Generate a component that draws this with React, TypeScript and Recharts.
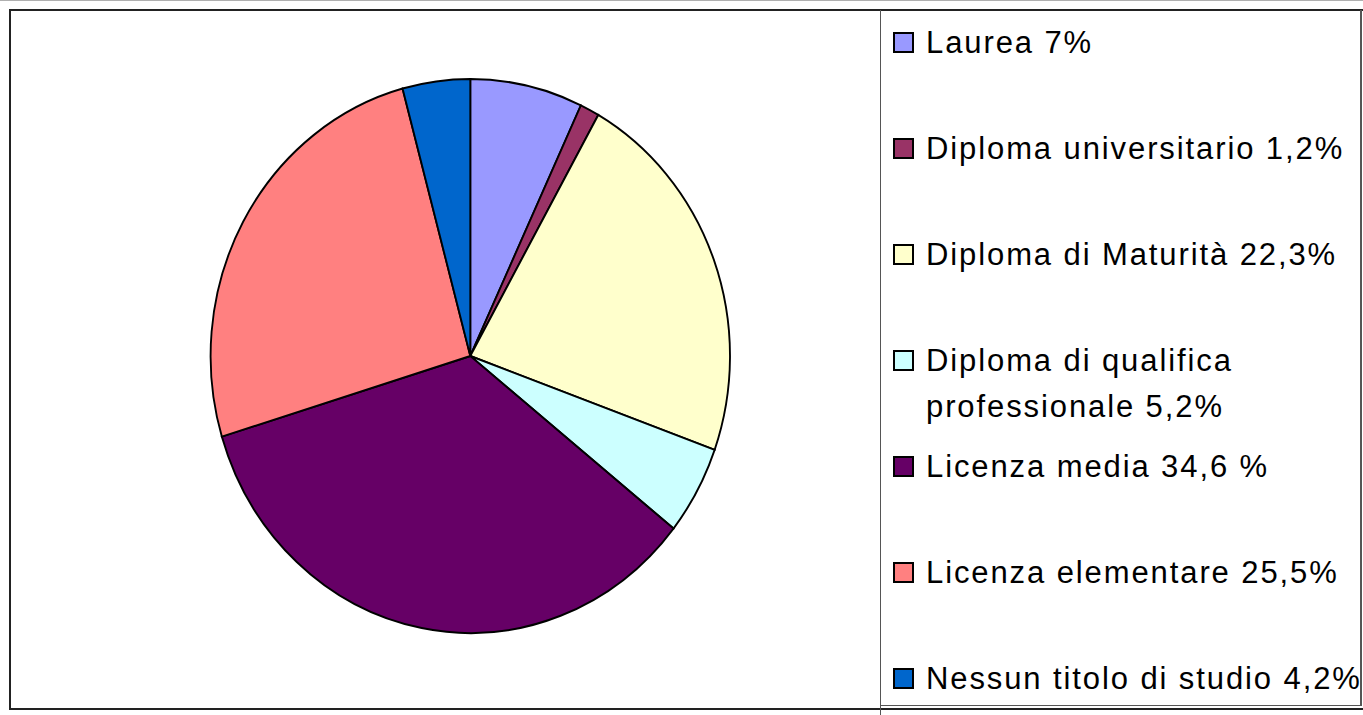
import { PieChart, Pie, Cell } from 'recharts'

// titoli di studio
const categories = [
  'Laurea',
  'Diploma universitario',
  'Diploma di Maturità',
  'Diploma di qualifica professionale',
  'Licenza media',
  'Licenza elementare',
  'Nessun titolo di studio',
]
const values = [7, 1.2, 22.3, 5.2, 34.6, 25.5, 4.2]
const legendLabels = [
  ['Laurea 7%'],
  ['Diploma universitario 1,2%'],
  ['Diploma di Maturità 22,3%'],
  ['Diploma di qualifica', 'professionale 5,2%'],
  ['Licenza media 34,6 %'],
  ['Licenza elementare 25,5%'],
  ['Nessun titolo di studio 4,2%'],
]
const colors = ['#9999ff', '#993366', '#ffffcc', '#ccffff', '#660066', '#ff8080', '#0066cc']

const data = categories.map((name, i) => ({ name, value: values[i] }))

// la torta originale è leggermente schiacciata in orizzontale
const RX = 259.7
const RY = 277
const CX = 460.3
const CY = 346

export default function App() {
  return (
    <div
      style={{
        position: 'absolute',
        left: 0,
        top: 0,
        width: 1363,
        height: 715,
        background: '#fff',
        fontFamily: '"Liberation Sans", Arial, sans-serif',
        overflow: 'hidden',
      }}
    >
      {/* riga grigia in alto */}
      <div style={{ position: 'absolute', left: 0, top: 0, width: 1363, height: 1, background: '#b0b0b0' }} />

      {/* cornice esterna */}
      <div
        style={{
          position: 'absolute',
          left: 9,
          top: 9,
          width: 1352,
          height: 697,
          borderLeft: '2px solid #222',
          borderTop: '2px solid #222',
          borderBottom: '2px solid #222',
        }}
      />

      {/* torta */}
      <div
        style={{
          position: 'absolute',
          left: 10,
          top: 10,
          width: 870,
          height: 696,
          transform: `scaleX(${RX / RY})`,
          transformOrigin: `${CX}px 50%`,
        }}
      >
        <PieChart width={870} height={696} margin={{ top: 0, right: 0, bottom: 0, left: 0 }}>
          <Pie
            data={data}
            dataKey="value"
            nameKey="name"
            cx={CX}
            cy={CY}
            outerRadius={RY}
            startAngle={90}
            endAngle={-270}
            stroke="#000"
            strokeWidth={2}
            isAnimationActive={false}
          >
            {data.map((d, i) => (
              <Cell key={d.name} fill={colors[i]} />
            ))}
          </Pie>
        </PieChart>
      </div>

      {/* legenda */}
      <div
        style={{
          position: 'absolute',
          left: 880,
          top: 10,
          width: 480,
          height: 695,
          borderRight: '2px solid #555',
          borderBottom: '1px solid #555',
        }}
      />
      <div style={{ position: 'absolute', left: 880, top: 10, width: 1, height: 705, background: '#555' }} />
      <div style={{ position: 'absolute', left: 893, top: 20, width: 470 }}>
        {legendLabels.map((lines, i) => (
          <div key={i} style={{ height: 106, display: 'flex', alignItems: 'flex-start' }}>
            <div
              style={{
                width: 17,
                height: 17,
                marginTop: 12,
                marginRight: 12,
                border: '2px solid #000',
                background: colors[i],
                flexShrink: 0,
              }}
            />
            <div
              style={{
                fontSize: 31,
                letterSpacing: '1.9px',
                lineHeight: '46px',
                color: '#000',
                whiteSpace: 'nowrap',
              }}
            >
              {lines.map((l) => (
                <div key={l}>{l}</div>
              ))}
            </div>
          </div>
        ))}
      </div>
    </div>
  )
}
